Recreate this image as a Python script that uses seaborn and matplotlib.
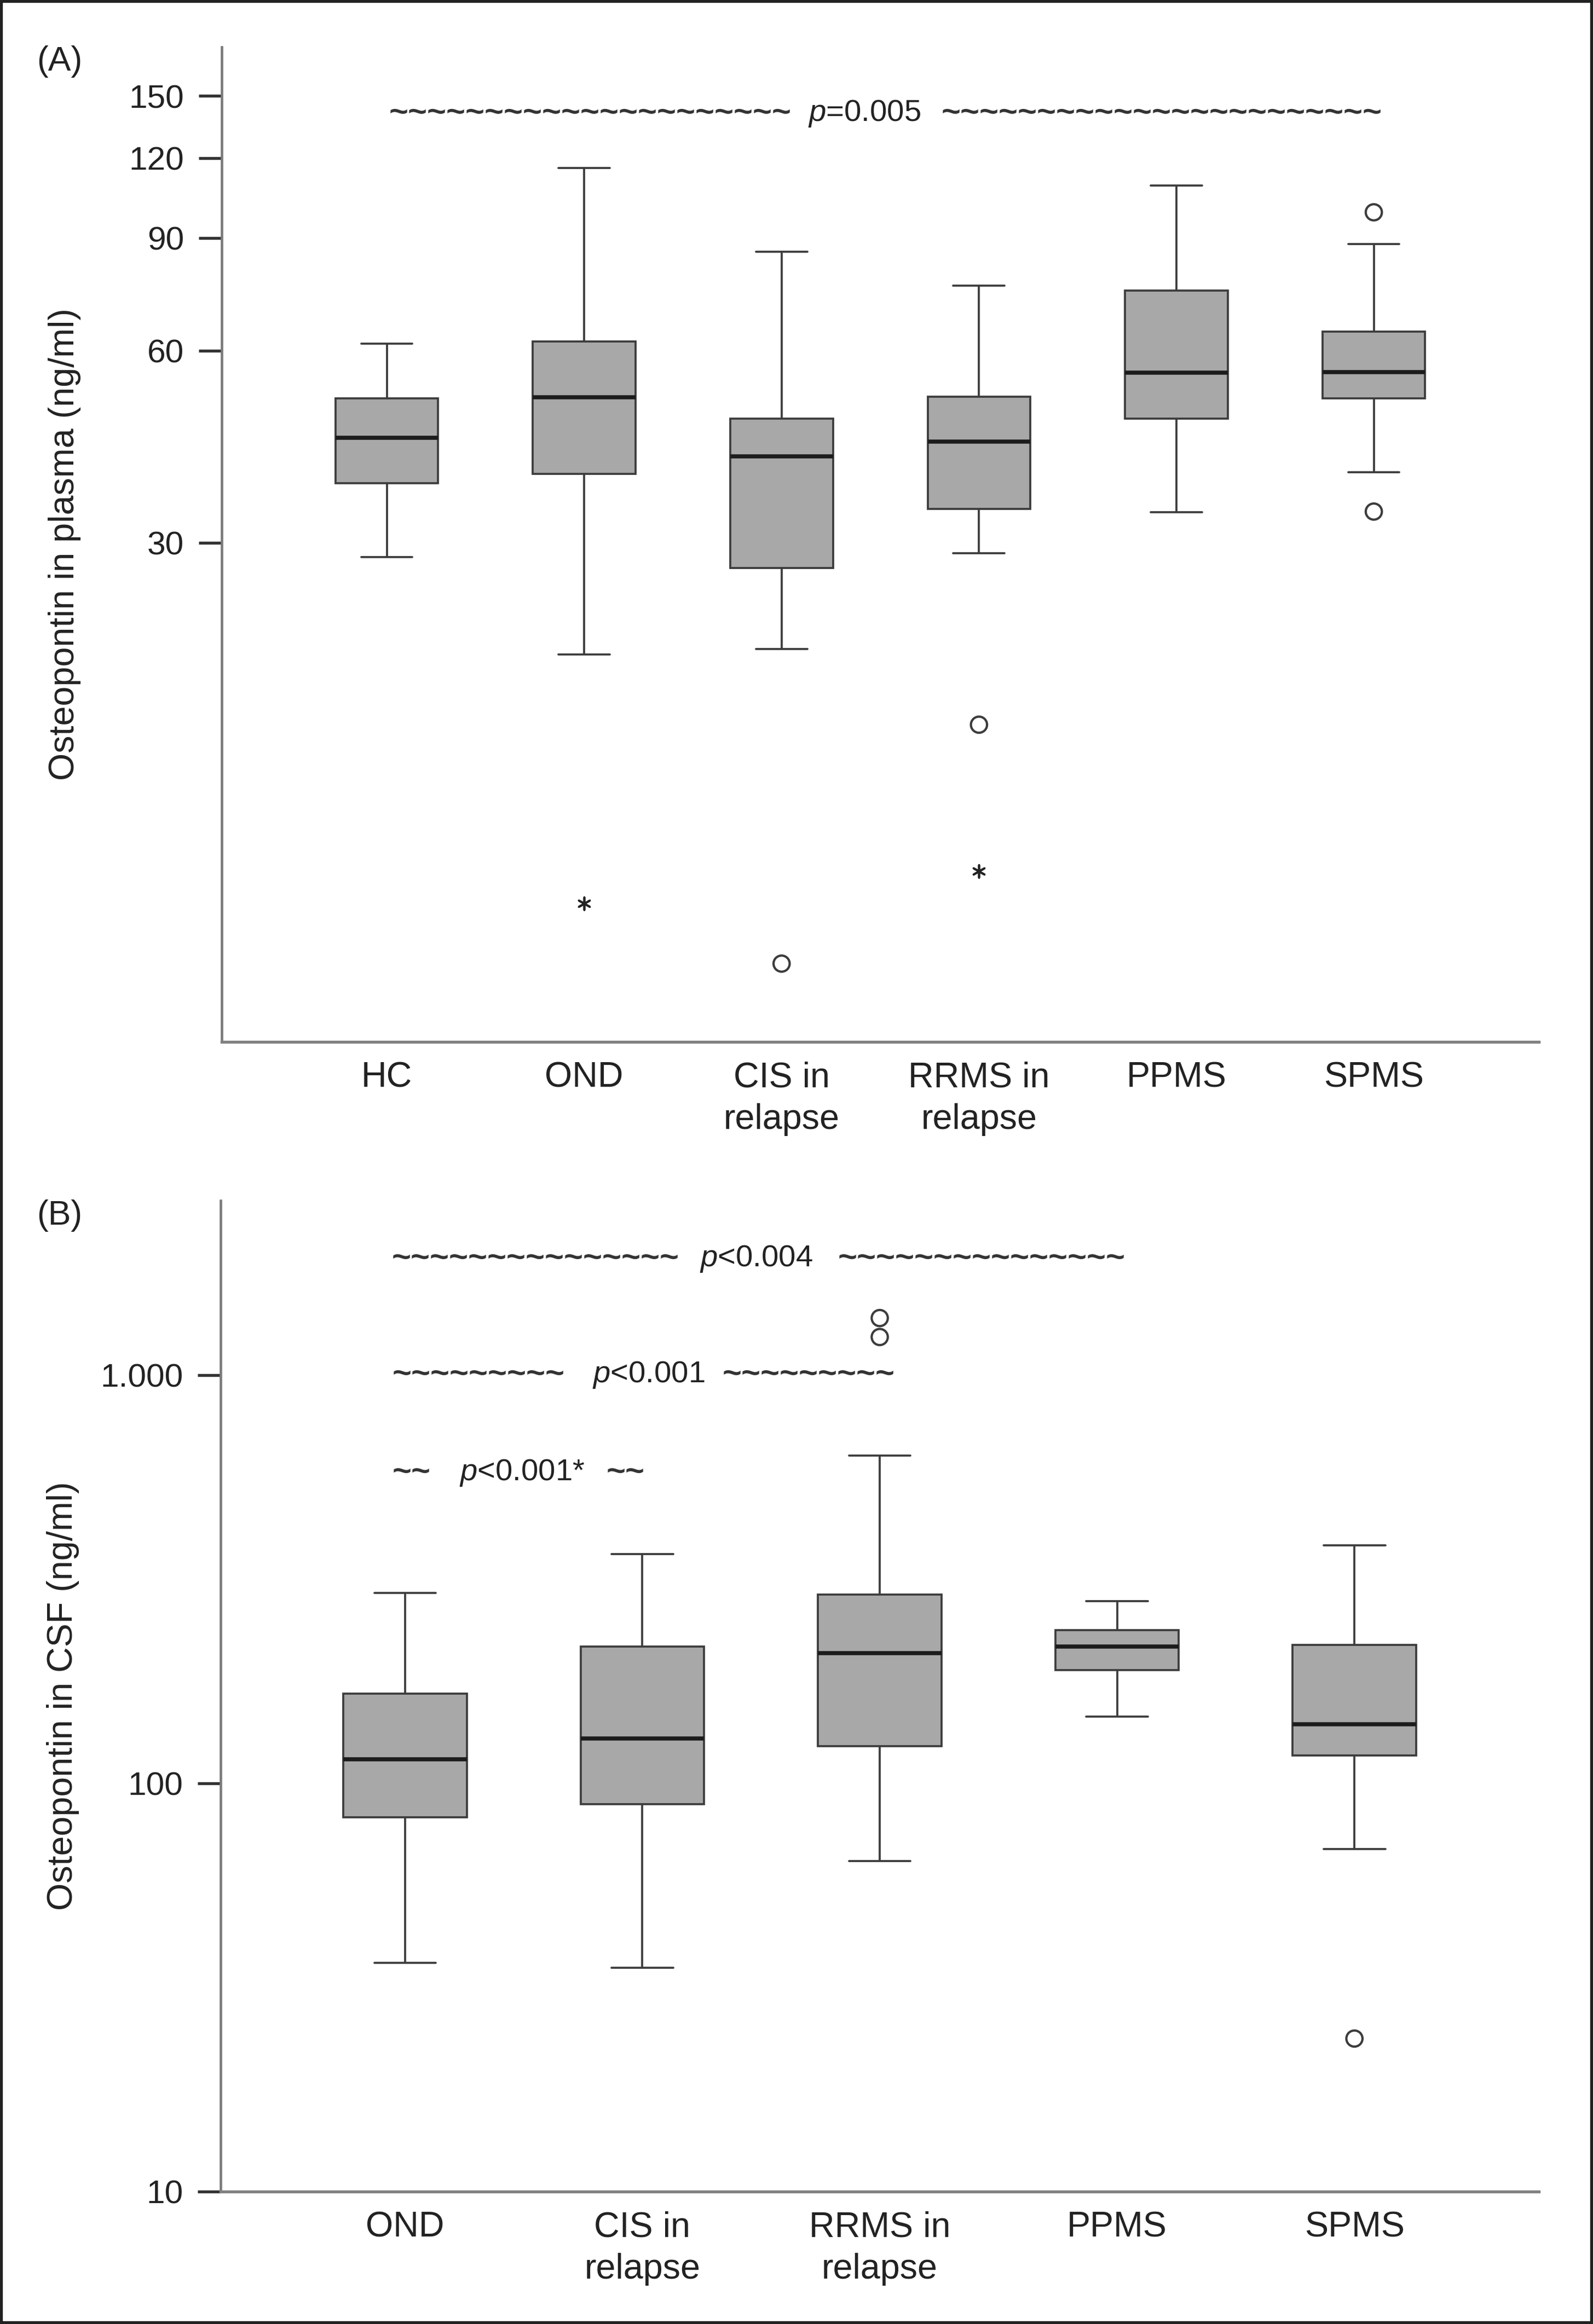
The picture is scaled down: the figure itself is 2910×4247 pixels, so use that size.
import numpy as np
import pandas as pd
import matplotlib.pyplot as plt
from matplotlib.patches import Rectangle
from matplotlib.ticker import FixedLocator, FixedFormatter, NullLocator
import seaborn as sns

groups_a = ["HC", "OND", "CIS in\nrelapse", "RRMS in\nrelapse", "PPMS", "SPMS"]
low_a = [28.5, 20.1, 20.5, 28.9, 33.5, 38.7]
q1_a = [37.2, 38.5, 27.4, 33.9, 47.0, 50.5]
med_a = [43.8, 50.7, 41.0, 43.2, 55.4, 55.5]
q3_a = [50.5, 62.0, 47.0, 50.8, 74.4, 64.2]
high_a = [61.5, 115.8, 85.7, 75.8, 108.6, 88.0]
out_group_a = ["OND", "CIS in\nrelapse", "RRMS in\nrelapse", "RRMS in\nrelapse", "SPMS", "SPMS"]
out_value_a = [8.2, 6.6, 15.6, 9.2, 98.7, 33.6]
out_extreme_a = [True, False, False, True, False, False]
yticks_a = [30, 60, 90, 120, 150]
ytick_labels_a = ["30", "60", "90", "120", "150"]

# Panel B: osteopontin in CSF
groups_b = ["OND", "CIS in\nrelapse", "RRMS in\nrelapse", "PPMS", "SPMS"]
low_b = [36.3, 35.3, 64.5, 145.6, 69.0]
q1_b = [82.6, 88.9, 123.4, 189.7, 117.2]
med_b = [114.7, 128.8, 208.5, 216.5, 139.6]
q3_b = [165.9, 216.0, 290.0, 237.4, 218.6]
high_b = [292.4, 365.0, 636.0, 279.5, 382.5]
out_group_b = ["RRMS in\nrelapse", "RRMS in\nrelapse", "SPMS"]
out_value_b = [1380, 1240, 23.7]
out_extreme_b = [False, False, False]
yticks_b = [10, 100, 1000]
ytick_labels_b = ["10", "100", "1.000"]

# p-value annotations: x centre of the p text, y, p text, tildes left / right
p_text_a = [r"$p$=0.005"]
p_x_a = [2.42]
p_y_a = [140.9]
tilde_left_a = [21]
tilde_right_a = [23]

p_text_b = [r"$p$<0.004", r"$p$<0.001", r"$p$<0.001*"]
p_x_b = [1.479, 1.026, 0.492]
p_y_b = [1927, 1003, 576]
tilde_left_b = [15, 9, 2]
tilde_right_b = [15, 9, 2]

# gaps (points) between tilde runs and the p text
gap_a = [(7.4, 9.1)]
gap_b = [(8.9, 11.0), (12.2, 7.7), (12.5, 9.6)]

sns.set_style("ticks")
plt.rcParams["font.family"] = ["Liberation Sans", "DejaVu Sans"]
plt.rcParams["mathtext.fontset"] = "custom"
plt.rcParams["mathtext.it"] = "Liberation Sans:italic"
plt.rcParams["mathtext.rm"] = "Liberation Sans"

TEXT = "#222222"
EDGE = "#3c3c3c"


def five_num_frame(groups, low, q1, med, q3, high):
    rows = []
    for g, *vals in zip(groups, low, q1, med, q3, high):
        for v in vals:
            rows.append({"group": g, "value": v})
    return pd.DataFrame(rows)


def p_annotations(ax, xs, ys, texts, n_left, n_right, gaps):
    for x, y, s, nl, nr, (gl, gr) in zip(xs, ys, texts, n_left, n_right, gaps):
        pt = ax.text(x, y, s, ha="center", va="center", fontsize=13.5, color=TEXT)
        ax.annotate("~" * nl, xy=(0, 0.5), xycoords=pt, xytext=(-gl, 0),
                    textcoords="offset points", ha="right", va="center",
                    fontsize=14.4, fontweight="bold", color="#333333")
        ax.annotate("~" * nr, xy=(1, 0.5), xycoords=pt, xytext=(gr, 0),
                    textcoords="offset points", ha="left", va="center",
                    fontsize=14.4, fontweight="bold", color="#333333")


def draw_panel(ax, groups, low, q1, med, q3, high, out_group, out_value, out_extreme,
               yticks, ytick_labels, ylim, xlim, ylabel):
    df = five_num_frame(groups, low, q1, med, q3, high)
    sns.boxplot(data=df, x="group", y="value", order=groups, ax=ax,
                color="#a8a8a8", linecolor=EDGE, linewidth=0.9, width=0.52,
                whis=(0, 100), log_scale=True, saturation=1, showfliers=False,
                medianprops={"color": "#1c1c1c", "linewidth": 1.8})

    xs = np.array([groups.index(g) for g in out_group], dtype=float)
    vals = np.array(out_value, dtype=float)
    ext = np.array(out_extreme, dtype=bool)
    if (~ext).any():
        ax.scatter(xs[~ext], vals[~ext], marker="o", s=50, facecolors="none",
                   edgecolors=EDGE, linewidths=1.0, zorder=3)
    if ext.any():
        ax.scatter(xs[ext], vals[ext], marker=(6, 2, 0), s=30, color="#222222",
                   linewidths=0.9, zorder=3)

    ax.yaxis.set_major_locator(FixedLocator(yticks))
    ax.yaxis.set_major_formatter(FixedFormatter(ytick_labels))
    ax.yaxis.set_minor_locator(NullLocator())
    ax.set_ylim(*ylim)
    ax.set_xlim(*xlim)
    ax.set_xlabel("")
    ax.set_ylabel(ylabel, fontsize=15.5, color=TEXT)
    ax.yaxis.set_label_coords(-0.107, 0.5)

    ax.tick_params(axis="y", length=10, width=1.3, color="#333333", pad=6.5,
                   labelsize=14.5, labelcolor=TEXT)
    ax.tick_params(axis="x", length=0, pad=8.6, labelsize=15.5, labelcolor=TEXT)
    for t in ax.get_xticklabels():
        t.set_linespacing(1.34)
    sns.despine(ax=ax)
    ax.spines["left"].set_color("#7a7a7a")
    ax.spines["left"].set_linewidth(1.1)
    ax.spines["bottom"].set_color("#808080")
    ax.spines["bottom"].set_linewidth(1.3)


fig = plt.figure(figsize=(9.7, 14.1567), dpi=300)

ax_a = fig.add_axes([0.1392, 0.5517, 0.8268, 0.4281])
draw_panel(ax_a, groups_a, low_a, q1_a, med_a, q3_a, high_a,
           out_group_a, out_value_a, out_extreme_a,
           yticks_a, ytick_labels_a, (4.98, 179.0), (-0.836, 5.836),
           "Osteopontin in plasma (ng/ml)")
p_annotations(ax_a, p_x_a, p_y_a, p_text_a, tilde_left_a, tilde_right_a, gap_a)

ax_b = fig.add_axes([0.1385, 0.0570, 0.8275, 0.4264])
draw_panel(ax_b, groups_b, low_b, q1_b, med_b, q3_b, high_b,
           out_group_b, out_value_b, out_extreme_b,
           yticks_b, ytick_labels_b, (10, 2677), (-0.777, 4.777),
           "Osteopontin in CSF (ng/ml)")
p_annotations(ax_b, p_x_b, p_y_b, p_text_b, tilde_left_b, tilde_right_b, gap_b)

fig.text(0.023, 0.9736, "(A)", fontsize=15, va="center", ha="left", color=TEXT)
fig.text(0.023, 0.4770, "(B)", fontsize=15, va="center", ha="left", color=TEXT)

# outer frame round the whole figure
fig.patches.append(Rectangle((0, 0), 1, 1, transform=fig.transFigure, fill=False,
                             edgecolor="#222222", linewidth=2.5))

fig.savefig("out.png", dpi=300)
